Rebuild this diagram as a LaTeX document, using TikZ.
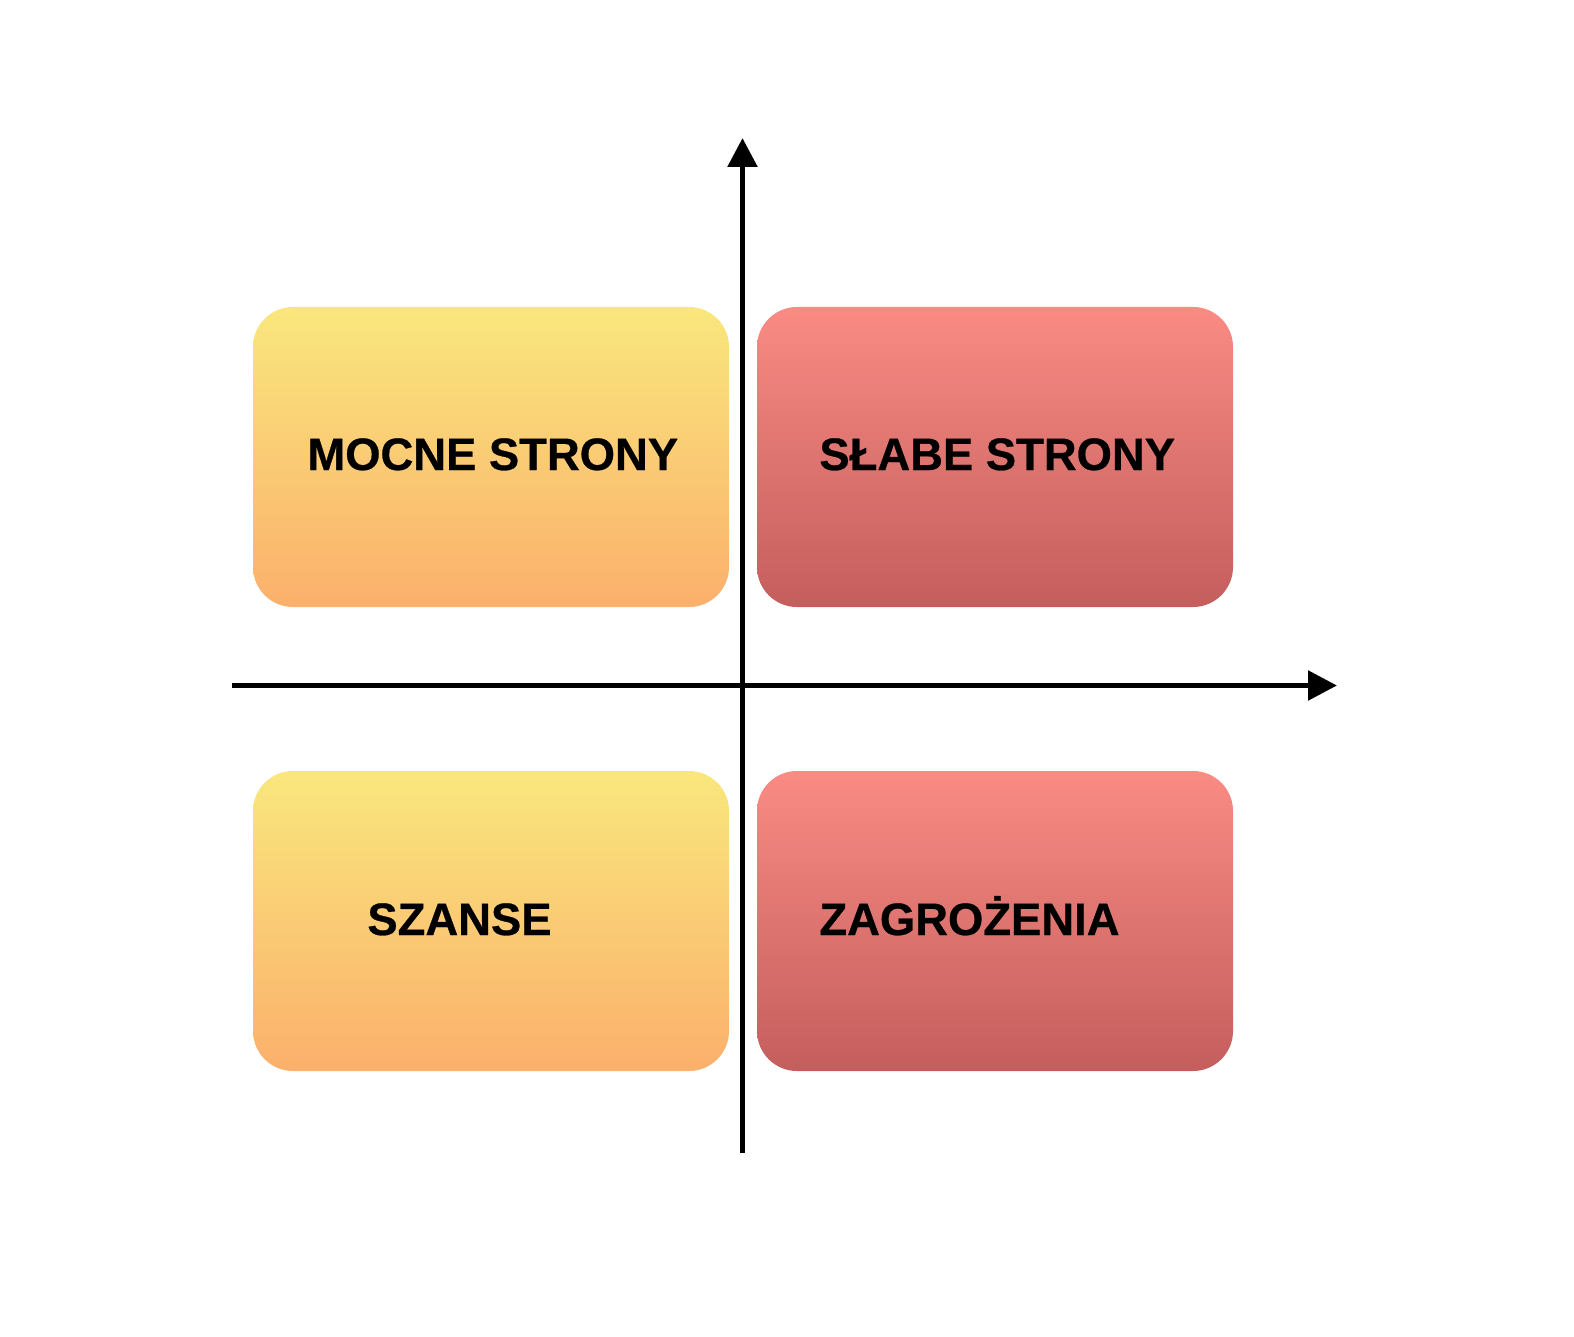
\documentclass[tikz,border=0pt]{standalone}
\usepackage{fontspec}
\setmainfont{Liberation Sans}
\newfontfamily\heavyfont[FakeBold=0.6]{Liberation Sans Bold}
\usetikzlibrary{arrows.meta}
\definecolor{yellowtop}{HTML}{F9E77D}
\definecolor{yellowbot}{HTML}{FBB06C}
\definecolor{redtop}{HTML}{F98B83}
\definecolor{redbot}{HTML}{C45E5D}
\tikzset{
  quad/.style={rounded corners=20pt, minimum width=238pt, minimum height=150pt, inner sep=0pt, draw=none},
  yellowquad/.style={quad, top color=yellowtop, bottom color=yellowbot},
  redquad/.style={quad, top color=redtop, bottom color=redbot},
  quadlabel/.style={anchor=base west, inner sep=0pt, font=\fontsize{22.7}{27}\heavyfont},
  axis/.style={line width=2.75pt, -{Triangle[length=14.5pt, width=14.5pt]}}
}
\begin{document}
\begin{tikzpicture}[x=0.5pt, y=-0.5pt]
\useasboundingbox (0,0) rectangle (1574,1337);
\node[yellowquad] (s) at (491,457) {};
\node[redquad] (w) at (995,457) {};
\node[yellowquad] (o) at (491,921) {};
\node[redquad] (t) at (995,921) {};
\node[quadlabel] (sl) at (307,470) {MOCNE STRONY};
\node[quadlabel] (wl) at (819,470) {SŁABE STRONY};
\node[quadlabel] (ol) at (367,935) {SZANSE};
\node[quadlabel] (tl) at (819,935) {ZAGROŻENIA};
\coordinate (ybot) at (742.5,1153);
\coordinate (ytop) at (742.5,138);
\coordinate (xleft) at (232,685.5);
\coordinate (xright) at (1337,685.5);
\draw[axis] (ybot) -- (ytop);
\draw[axis] (xleft) -- (xright);
\end{tikzpicture}
\end{document}
